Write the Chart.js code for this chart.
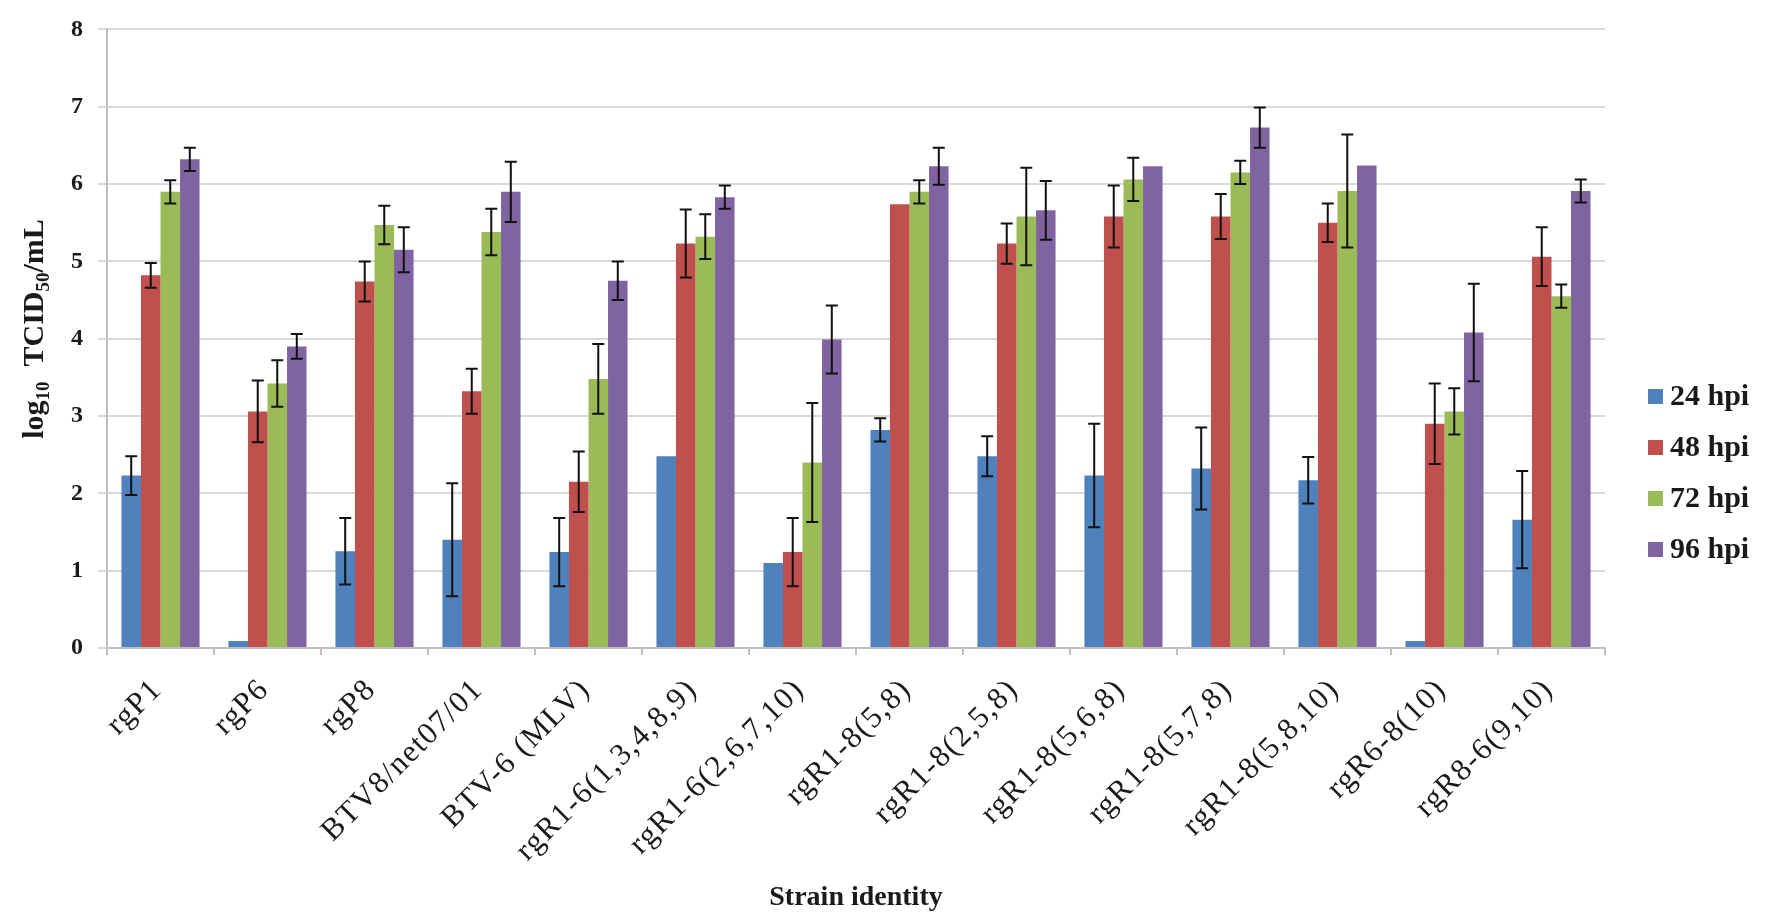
<!DOCTYPE html>
<html>
<head>
<meta charset="utf-8">
<title>Strain growth kinetics</title>
<script src="https://cdn.jsdelivr.net/npm/chart.js@4.4.1/dist/chart.umd.min.js"></script>
<style>
  html, body { margin: 0; padding: 0; background: #ffffff; }
  #wrap { position: relative; width: 1775px; height: 917px; }
</style>
</head>
<body>
<div id="wrap"><canvas id="chart" width="1775" height="917"></canvas></div>
<script>
// Strains tested
const categories = [
  'rgP1', 'rgP6', 'rgP8', 'BTV8/net07/01', 'BTV-6 (MLV)',
  'rgR1-6(1,3,4,8,9)', 'rgR1-6(2,6,7,10)', 'rgR1-8(5,8)', 'rgR1-8(2,5,8)',
  'rgR1-8(5,6,8)', 'rgR1-8(5,7,8)', 'rgR1-8(5,8,10)', 'rgR6-8(10)', 'rgR8-6(9,10)'
];

// Virus titres (log10 TCID50/mL) and their error half-widths per time point
const hpi24 = [2.23, 0.09, 1.25, 1.40, 1.24, 2.48, 1.10, 2.82, 2.48, 2.23, 2.32, 2.17, 0.09, 1.66];
const err24 = [0.25, 0.00, 0.43, 0.73, 0.44, 0.00, 0.00, 0.15, 0.26, 0.67, 0.53, 0.30, 0.00, 0.63];
const hpi48 = [4.82, 3.06, 4.74, 3.32, 2.15, 5.23, 1.24, 5.74, 5.23, 5.58, 5.58, 5.50, 2.90, 5.06];
const err48 = [0.16, 0.40, 0.26, 0.29, 0.39, 0.44, 0.44, 0.00, 0.26, 0.40, 0.29, 0.25, 0.52, 0.38];
const hpi72 = [5.90, 3.42, 5.47, 5.38, 3.48, 5.32, 2.40, 5.90, 5.58, 6.06, 6.15, 5.91, 3.06, 4.55];
const err72 = [0.15, 0.30, 0.25, 0.30, 0.45, 0.29, 0.77, 0.15, 0.63, 0.28, 0.15, 0.73, 0.30, 0.15];
const hpi96 = [6.32, 3.90, 5.15, 5.90, 4.75, 5.83, 3.99, 6.23, 5.66, 6.23, 6.73, 6.24, 4.08, 5.91];
const err96 = [0.15, 0.16, 0.29, 0.39, 0.25, 0.15, 0.44, 0.24, 0.38, 0.00, 0.26, 0.00, 0.63, 0.15];

const seriesLabels = ['24 hpi', '48 hpi', '72 hpi', '96 hpi'];
const yTicks = [0, 1, 2, 3, 4, 5, 6, 7, 8];

const colors = ['#4F81BD', '#C0504D', '#9BBB59', '#8064A2'];
const seriesValues = [hpi24, hpi48, hpi72, hpi96];
const seriesErrors = [err24, err48, err72, err96];

const SERIF = '"Liberation Serif", "Times New Roman", serif';
const PLOT = { left: 107, right: 1605, top: 19, bottom: 648 };

// Error bars drawn from each bar's centre using the value scale
const errorBars = {
  id: 'errorBars',
  afterDatasetsDraw(chart) {
    const ctx = chart.ctx;
    const y = chart.scales.y;
    ctx.save();
    ctx.strokeStyle = '#111111';
    ctx.lineWidth = 2;
    chart.data.datasets.forEach((ds, di) => {
      const meta = chart.getDatasetMeta(di);
      meta.data.forEach((bar, i) => {
        const e = ds.errors[i];
        if (!e) return;
        const v = ds.data[i];
        const yTop = y.getPixelForValue(v + e);
        const yBot = y.getPixelForValue(v - e);
        const x = bar.x;
        ctx.beginPath();
        ctx.moveTo(x, yTop); ctx.lineTo(x, yBot);
        ctx.moveTo(x - 6, yTop); ctx.lineTo(x + 6, yTop);
        ctx.moveTo(x - 6, yBot); ctx.lineTo(x + 6, yBot);
        ctx.stroke();
      });
    });
    ctx.restore();
  }
};

// Axis titles, rotated category labels and the legend
const annotations = {
  id: 'annotations',
  afterDraw(chart) {
    const ctx = chart.ctx;
    const xs = chart.scales.x;
    ctx.save();
    ctx.fillStyle = '#1a1a1a';

    // category labels at 45 degrees
    ctx.font = '31px ' + SERIF;
    ctx.letterSpacing = '1.5px';
    ctx.textAlign = 'right';
    ctx.textBaseline = 'middle';
    categories.forEach((c, i) => {
      const x = xs.getPixelForValue(i);
      ctx.save();
      ctx.translate(x - 3, xs.top + 37);
      ctx.rotate(-Math.PI / 4);
      ctx.fillText(c, 0, 0);
      ctx.restore();
    });
    ctx.letterSpacing = '0px';

    // x axis title
    ctx.font = 'bold 28px ' + SERIF;
    ctx.textAlign = 'center';
    ctx.textBaseline = 'middle';
    ctx.fillText('Strain identity', (xs.left + xs.right) / 2, 898);

    // y axis title with subscripts
    const parts = [
      { t: 'log', sub: false }, { t: '10', sub: true }, { t: '  TCID', sub: false },
      { t: '50', sub: true }, { t: '/mL', sub: false }
    ];
    const big = 'bold 30px ' + SERIF, small = 'bold 19px ' + SERIF;
    let total = 0;
    parts.forEach(p => { ctx.font = p.sub ? small : big; p.w = ctx.measureText(p.t).width; total += p.w; });
    ctx.save();
    ctx.translate(33, 329);
    ctx.rotate(-Math.PI / 2);
    ctx.textAlign = 'left';
    ctx.textBaseline = 'alphabetic';
    let px = -total / 2;
    parts.forEach(p => {
      ctx.font = p.sub ? small : big;
      ctx.fillText(p.t, px, p.sub ? 16 : 10);
      px += p.w;
    });
    ctx.restore();

    // legend
    ctx.font = 'bold 30px ' + SERIF;
    ctx.textAlign = 'left';
    ctx.textBaseline = 'middle';
    seriesLabels.forEach((lab, i) => {
      const cy = 396 + i * 51;
      ctx.fillStyle = colors[i];
      ctx.fillRect(1648, cy - 7, 15, 15);
      ctx.fillStyle = '#1a1a1a';
      ctx.fillText(lab, 1670, cy + 1);
    });
    ctx.restore();
  }
};

new Chart(document.getElementById('chart'), {
  type: 'bar',
  data: {
    labels: categories,
    datasets: seriesLabels.map((lab, i) => ({
      label: lab,
      data: seriesValues[i],
      errors: seriesErrors[i],
      backgroundColor: colors[i],
      borderWidth: 0,
      categoryPercentage: 0.73,
      barPercentage: 1.0
    }))
  },
  options: {
    responsive: false,
    animation: false,
    devicePixelRatio: 1,
    layout: { padding: { left: 0, right: 1775 - PLOT.right, top: PLOT.top, bottom: 0 } },
    plugins: {
      legend: { display: false },
      tooltip: { enabled: false },
      title: { display: false }
    },
    scales: {
      x: {
        offset: true,
        grid: {
          offset: true,
          drawOnChartArea: false,
          drawTicks: true,
          tickLength: 7,
          color: '#bfbfbf',
          lineWidth: 2
        },
        border: { display: true, color: '#bfbfbf', width: 2 },
        ticks: { display: false },
        afterFit(scale) { scale.height = 917 - PLOT.bottom; }
      },
      y: {
        min: 0,
        max: 8,
        afterBuildTicks(scale) { scale.ticks = yTicks.map(v => ({ value: v })); },
        grid: {
          color: '#d9d9d9',
          lineWidth: 2,
          drawTicks: true,
          tickLength: 9
        },
        border: { display: true, color: '#bfbfbf', width: 2 },
        ticks: {
          padding: 15,
          color: '#1a1a1a',
          font: { family: SERIF, size: 24, weight: 'bold' }
        },
        afterFit(scale) { scale.width = PLOT.left; }
      }
    }
  },
  plugins: [errorBars, annotations]
});
</script>
</body>
</html>
